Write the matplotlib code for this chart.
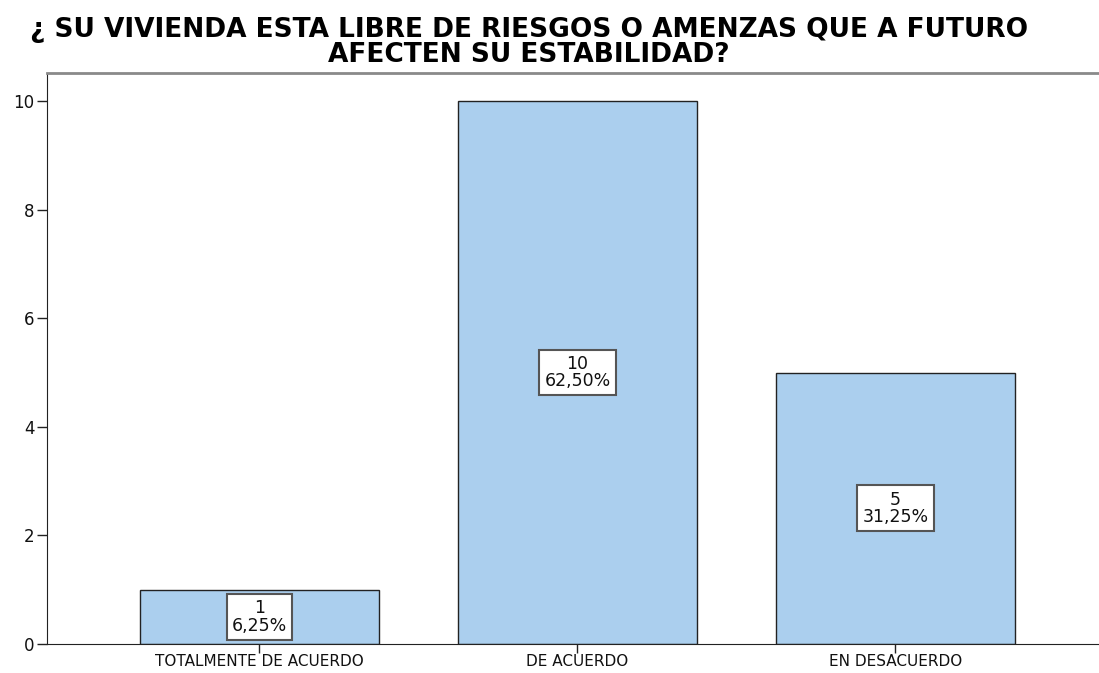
import matplotlib.pyplot as plt

categorias = ["TOTALMENTE DE ACUERDO", "DE ACUERDO", "EN DESACUERDO"]
conteos = [1, 10, 5]
porcentajes = ["6,25%", "62,50%", "31,25%"]
yticks = [0, 2, 4, 6, 8, 10]
titulo = ["¿ SU VIVIENDA ESTA LIBRE DE RIESGOS O AMENZAS QUE A FUTURO",
          "AFECTEN SU ESTABILIDAD?"]

plt.rcParams['font.family'] = ['DejaVu Sans']

fig = plt.figure(figsize=(10.99, 6.73), dpi=100)
ax = fig.add_axes([0.0428, 0.0431, 0.9572, 0.8484])

x = range(len(categorias))
ax.bar(x, conteos, width=0.75, color='#abcfee', edgecolor='#222222', linewidth=1.0)

for i, (c, p) in enumerate(zip(conteos, porcentajes)):
    ax.text(i, c / 2, f"{c}\n{p}", ha='center', va='center', fontsize=12.5,
            linespacing=0.95, color='#111111',
            bbox=dict(boxstyle='square,pad=0.3', facecolor='white',
                      edgecolor='#555555', linewidth=1.5))

ax.set_xlim(-0.668, 2.64)
ax.set_ylim(0, 10.52)
ax.set_xticks(list(x))
ax.set_xticklabels(categorias, fontsize=11, color='#111111')
ax.set_yticks(yticks)
ax.set_yticklabels([str(t) for t in yticks], fontsize=12, color='#111111')
ax.tick_params(axis='y', direction='out', length=7.5, width=1, color='#222222', pad=1.5)
ax.tick_params(axis='x', direction='out', length=6.5, width=1, color='#222222', pad=1)

ax.spines['right'].set_visible(False)
ax.spines['top'].set_color('#8a8a8a')
ax.spines['top'].set_linewidth(2)
ax.spines['left'].set_color('#222222')
ax.spines['bottom'].set_color('#222222')

fig.text(0.481, 1 - 37 / 673, titulo[0], ha='center', va='baseline',
         fontsize=19, fontweight='bold')
fig.text(0.481, 1 - 62 / 673, titulo[1], ha='center', va='baseline',
         fontsize=19, fontweight='bold')

fig.savefig('out.png', dpi=100)
